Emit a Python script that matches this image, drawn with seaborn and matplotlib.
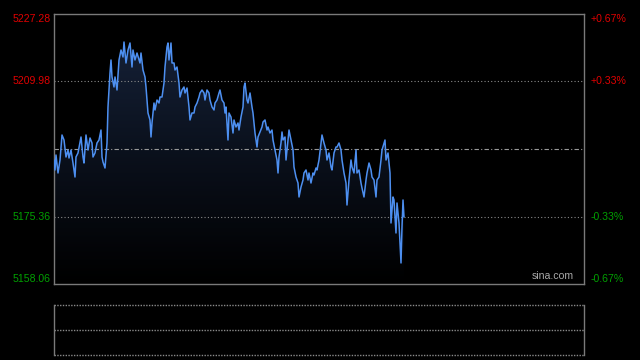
import numpy as np
import pandas as pd
import matplotlib
matplotlib.use("Agg")
import matplotlib.pyplot as plt
from matplotlib.colors import LinearSegmentedColormap
import seaborn as sns

# ---- data -------------------------------------------------------------
# minutes since the open (full session = 241 one-minute slots)
minutes = [0, 0.45, 0.91, 1.82, 2.73, 3.64, 4.55, 5.46, 6.37, 6.82, 7.73, 8.64, 9.55, 10.0,
           10.91, 12.28, 13.19, 13.64, 14.55, 15.46, 16.37, 17.28, 17.73, 18.64, 19.55,
           20.46, 21.37, 21.83, 22.28, 23.19, 24.1, 24.55, 25.46, 25.92, 26.37, 27.28,
           27.74, 28.65, 29.56, 30.47, 31.38, 31.83, 32.74, 33.65, 34.56, 35.47, 35.92,
           36.83, 37.74, 39.11, 39.56, 40.47, 41.38, 41.83, 42.74, 43.65, 44.11, 44.56,
           45.47, 45.93, 46.84, 47.75, 48.2, 49.11, 50.02, 50.47, 51.38, 51.84, 52.29,
           53.2, 53.66, 54.57, 55.02, 55.93, 56.84, 57.29, 58.2, 59.11, 59.57, 60.48,
           61.39, 61.84, 62.75, 63.66, 64.12, 65.03, 65.93, 66.39, 67.3, 68.21, 68.66,
           69.57, 70.48, 70.94, 71.85, 72.76, 73.21, 74.12, 75.03, 75.48, 76.39, 77.3,
           77.76, 78.21, 79.12, 79.58, 80.49, 81.4, 81.85, 82.76, 83.67, 84.12, 85.03,
           85.94, 86.4, 86.85, 87.76, 88.22, 89.13, 90.03, 90.49, 91.4, 92.31, 92.76,
           93.67, 94.58, 95.04, 95.95, 96.86, 97.31, 98.22, 99.13, 99.58, 100.49, 101.4,
           101.86, 102.31, 103.22, 103.68, 104.13, 105.04, 105.5, 106.4, 106.86, 107.77,
           108.68, 109.13, 110.04, 110.95, 111.41, 112.32, 113.23, 113.68, 114.59, 115.5,
           115.95, 116.86, 117.77, 118.23, 119.14, 119.59, 120.5, 121.41, 121.86, 122.77,
           123.68, 124.14, 125.05, 125.96, 126.41, 127.32, 128.23, 128.69, 129.6, 130.5,
           130.96, 131.87, 132.78, 133.23, 134.14, 135.05, 135.51, 136.42, 137.33, 137.78,
           138.69, 139.6, 140.05, 140.96, 141.87, 142.33, 143.24, 144.15, 144.6, 145.51,
           146.42, 146.87, 147.78, 148.69, 149.15, 150.51, 150.97, 151.88, 152.79, 153.24,
           154.15, 154.6, 155.51, 155.97, 156.88, 157.33, 157.79, 158.24, 158.7, 159.15]

prices = [5189.85, 5187.29, 5191.13, 5186.52, 5189.85, 5196.26, 5194.98, 5190.62, 5192.41,
          5190.36, 5192.41, 5189.08, 5185.49, 5190.62, 5191.65, 5195.75, 5190.62, 5189.08,
          5196.26, 5192.41, 5195.49, 5194.21, 5190.62, 5191.65, 5194.21, 5194.98, 5197.54,
          5190.62, 5189.34, 5187.80, 5194.21, 5203.44, 5212.15, 5215.49, 5211.13, 5208.57,
          5211.13, 5207.80, 5215.49, 5218.05, 5216.26, 5220.10, 5214.72, 5218.05, 5219.85,
          5213.69, 5218.05, 5215.49, 5217.28, 5214.72, 5217.28, 5212.92, 5211.13, 5208.57,
          5201.90, 5200.11, 5195.75, 5199.34, 5204.46, 5202.67, 5205.23, 5204.46, 5206.00,
          5206.00, 5209.59, 5213.69, 5218.82, 5219.85, 5215.49, 5219.85, 5214.72, 5214.72,
          5212.92, 5213.69, 5209.59, 5206.00, 5207.80, 5208.57, 5207.03, 5208.31, 5203.44,
          5200.11, 5201.90, 5201.90, 5203.44, 5204.46, 5206.00, 5207.03, 5207.80, 5207.03,
          5205.23, 5207.80, 5207.03, 5205.23, 5203.44, 5202.67, 5204.46, 5205.23, 5207.03,
          5207.80, 5205.23, 5204.46, 5201.90, 5203.44, 5194.98, 5201.90, 5200.87, 5196.77,
          5200.11, 5198.31, 5199.34, 5197.54, 5200.87, 5203.44, 5208.57, 5209.59, 5205.23,
          5204.46, 5207.03, 5203.44, 5201.90, 5196.77, 5193.18, 5195.75, 5197.03, 5198.31,
          5199.59, 5200.11, 5197.54, 5198.31, 5196.77, 5197.54, 5194.98, 5192.41, 5189.85,
          5186.52, 5190.62, 5194.21, 5197.03, 5194.98, 5195.75, 5189.85, 5194.98, 5197.54,
          5194.98, 5192.41, 5188.06, 5185.49, 5183.95, 5180.37, 5182.93, 5184.72, 5186.52,
          5187.29, 5184.72, 5186.52, 5183.95, 5186.52, 5186.01, 5187.80, 5187.29, 5189.85,
          5194.21, 5196.26, 5194.21, 5192.41, 5189.85, 5191.65, 5188.06, 5187.29, 5191.65,
          5193.18, 5193.18, 5194.21, 5192.41, 5189.85, 5186.52, 5183.95, 5178.31, 5184.72,
          5189.85, 5188.06, 5186.52, 5192.41, 5186.52, 5187.29, 5183.95, 5182.67, 5180.37,
          5184.72, 5186.52, 5189.08, 5187.29, 5185.49, 5184.72, 5180.37, 5184.72, 5185.49,
          5189.85, 5192.41, 5194.98, 5189.85, 5191.65, 5186.52, 5173.70, 5180.37, 5179.60,
          5171.14, 5178.83, 5173.70, 5168.57, 5163.45, 5172.67, 5179.60, 5175.24]

price_ticks = [5227.28, 5209.98, 5175.36, 5158.06]
pct_ticks = ["+0.67%", "+0.33%", "-0.33%", "-0.67%"]
prev_close = 5192.67
session_len = 241

df = pd.DataFrame({"minute": minutes, "price": prices})

# ---- style -------------------------------------------------------------
sns.set_style("dark")
plt.rcParams["font.family"] = ["Liberation Sans", "DejaVu Sans"]

fig = plt.figure(figsize=(6.4, 3.6), dpi=100, facecolor="black")
ax = fig.add_axes([54 / 640, 1 - 284 / 360, 530 / 640, 270 / 360])
ax2 = fig.add_axes([54 / 640, 1 - 355 / 360, 530 / 640, 50 / 360])

ymin, ymax = price_ticks[-1], price_ticks[0]
frame = "#7a7a7a"

for a in (ax, ax2):
    a.set_facecolor("black")
    a.set_xlim(0, session_len)
    a.grid(False)
    a.set_xticks([])
    a.set_xlabel("")
    a.set_ylabel("")

ax.set_ylim(ymin, ymax)
for s in ax.spines.values():
    s.set_visible(True)
    s.set_color(frame)
    s.set_linewidth(1)

# gradient fill below the line
fill = ax.fill_between(df["minute"], df["price"], ymin, color="none", lw=0)
cmap = LinearSegmentedColormap.from_list("g", ["#000000", "#0b111d", "#17243d"])
grad = np.linspace(0, 1, 256).reshape(-1, 1)
im = ax.imshow(grad, extent=[0, session_len, ymin, ymax], origin="lower",
               aspect="auto", cmap=cmap, zorder=1)
clip = fill.get_paths()[0]
im.set_clip_path(clip, transform=ax.transData)

sns.lineplot(data=df, x="minute", y="price", ax=ax, color="#4d8ff0",
             linewidth=1.1, zorder=3, estimator=None, sort=False)
ax.set_xlabel("")
ax.set_ylabel("")

# grid lines
for v in (price_ticks[1], price_ticks[2]):
    ax.axhline(v, color="#8a8a8a", lw=0.8, ls=(0, (1, 2)), zorder=2)
ax.axhline(prev_close, color="#9a9a9a", lw=0.8, ls=(0, (4, 2, 1, 2)), zorder=2)

ax.set_yticks([])
colors = ["#e00000", "#e00000", "#00a000", "#00a000"]
vas = ["top", "center", "center", "bottom"]
for v, t, c, va in zip(price_ticks, pct_ticks, colors, vas):
    off = {"top": -0.0, "center": 0, "bottom": 0}[va]
    ax.text(-0.006, v, f"{v:.2f}", transform=ax.get_yaxis_transform(),
            ha="right", va=va, color=c, fontsize=7.6)
    ax.text(1.012, v, t, transform=ax.get_yaxis_transform(),
            ha="left", va=va, color=c, fontsize=7.6)

ax.text(0.981, 0.012, "sina.com", transform=ax.transAxes, ha="right", va="bottom",
        color="#a8a8a8", fontsize=7.6)

# lower panel
ax2.set_ylim(0, 2)
ax2.set_yticks([])
for side in ("top", "bottom"):
    ax2.spines[side].set_visible(False)
for side in ("left", "right"):
    ax2.spines[side].set_visible(True)
    ax2.spines[side].set_color(frame)
    ax2.spines[side].set_linewidth(1)
for v in (0, 1, 2):
    ax2.axhline(v, color="#8a8a8a", lw=1.0, ls=(0, (1, 1)), clip_on=False)

fig.savefig("out.png", dpi=100, facecolor="black")
